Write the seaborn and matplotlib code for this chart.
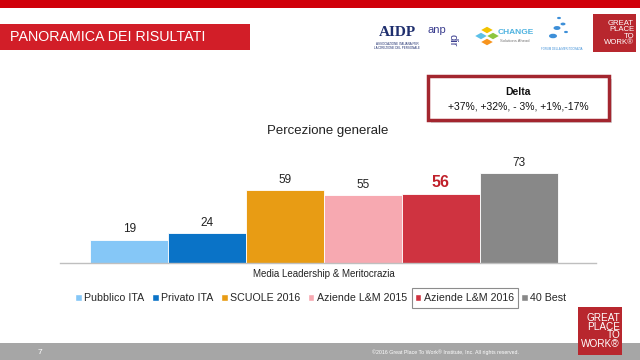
import matplotlib
matplotlib.use("Agg")
import matplotlib.pyplot as plt
import matplotlib.patches as mpatches
import pandas as pd
import seaborn as sns

# data
category = ["Media Leadership & Meritocrazia"]
series = ["Pubblico ITA", "Privato ITA", "SCUOLE 2016", "Aziende L&M 2015", "Aziende L&M 2016", "40 Best"]
values = [19, 24, 59, 55, 56, 73]
colors = ["#85C7F7", "#0A73C7", "#E89C14", "#F7A9B1", "#CF3340", "#888888"]
highlight = "Aziende L&M 2016"
delta_text = "+37%, +32%, - 3%, +1%,-17%"

sns.set_theme(style="white")
plt.rcParams["font.family"] = ["Liberation Sans", "DejaVu Sans"]

df = pd.DataFrame({"cat": category * len(series), "series": series, "value": values})

fig = plt.figure(figsize=(6.4, 3.6), dpi=100)
fig.patch.set_facecolor("white")

ax = fig.add_axes([60 / 640, 97 / 360, 536 / 640, 118 / 360])
sns.barplot(data=df, x="cat", y="value", hue="series", hue_order=series,
            palette=colors, saturation=1, width=0.872, ax=ax, legend=False,
            edgecolor="white", linewidth=0.6)
ax.set_xlim(-0.4925, 0.5075)
ax.set_ylim(0, 95.7)
ax.set_xlabel("")
ax.set_ylabel("")
ax.set_yticks([])
for s in ["top", "left", "right"]:
    ax.spines[s].set_visible(False)
ax.spines["bottom"].set_color("#BFBFBF")
ax.spines["bottom"].set_linewidth(1)
ax.tick_params(axis="x", length=0, pad=4, labelsize=7, colors="#222222")
ax.set_facecolor("white")

for name, cont in zip(series, ax.containers):
    labels = [str(int(v)) for v in cont.datavalues]
    if name == highlight:
        ax.bar_label(cont, labels=labels, padding=3,
                     fontsize=11.5, fontweight="bold", color="#C0202A")
    else:
        ax.bar_label(cont, labels=labels, padding=3,
                     fontsize=8.5, color="#222222")

ax.set_title("Percezione generale", fontsize=9.5, color="#222222", pad=8)

# legend
handles = [mpatches.Patch(facecolor=c, edgecolor="white", label=s) for s, c in zip(series, colors)]
leg = fig.legend(handles=handles, loc="center", bbox_to_anchor=(321 / 640, 1 - 298 / 360),
                 ncol=6, frameon=False, fontsize=7.7, handlelength=0.6, handleheight=0.6,
                 handletextpad=0.25, columnspacing=0.7, borderaxespad=0)
fig.canvas.draw()
renderer = fig.canvas.get_renderer()
for t in leg.get_texts():
    if t.get_text() == highlight:
        bb = t.get_window_extent(renderer)
        fig.patches.append(mpatches.Rectangle(((bb.x0 - 12) / 640, (bb.y0 - 5) / 360),
                                              (bb.width + 16) / 640, (bb.height + 10) / 360,
                                              transform=fig.transFigure, fill=False,
                                              edgecolor="#8C8C8C", linewidth=0.8))

# header
fig.patches.append(mpatches.Rectangle((0, 1 - 8 / 360), 1, 8 / 360, transform=fig.transFigure,
                                      facecolor="#D0000A", edgecolor="none"))
fig.patches.append(mpatches.Rectangle((0, 1 - 50 / 360), 250 / 640, 26 / 360, transform=fig.transFigure,
                                      facecolor="#D21E28", edgecolor="none"))
fig.text(10 / 640, 1 - 37 / 360, "PANORAMICA DEI RISULTATI", color="white", fontsize=10.3,
         va="center", ha="left")

# logos (approximate, as text)
fig.text(397 / 640, 1 - 32 / 360, "AIDP", color="#1F2F6E", fontsize=11, fontweight="bold",
         family=["Liberation Serif", "DejaVu Serif"], ha="center", va="center")
fig.text(397 / 640, 1 - 46 / 360, "ASSOCIAZIONE ITALIANA PER\nLA DIREZIONE DEL PERSONALE",
         color="#1F2F6E", fontsize=2.2, ha="center", va="center")
fig.text(437 / 640, 1 - 30 / 360, "anp", color="#3A3D8F", fontsize=8, ha="center", va="center")
fig.text(452 / 640, 1 - 40 / 360, "dir", color="#3A3D8F", fontsize=8, rotation=270,
         ha="center", va="center")
for dx, dy, c in [(0, 6, "#F2C300"), (-6, 0, "#5CC0E8"), (6, 0, "#8DC63F"), (0, -6, "#F7941D")]:
    fig.patches.append(mpatches.RegularPolygon(((487 + dx) / 640, 1 - (36 - dy) / 360), 4,
                                               radius=0.009, orientation=0,
                                               transform=fig.transFigure,
                                               facecolor=c, edgecolor="none"))
fig.text(498 / 640, 1 - 32 / 360, "CHANGE", color="#4FB3E0", fontsize=6, fontweight="bold",
         ha="left", va="center")
fig.text(500 / 640, 1 - 41 / 360, "Solutions Ahead", color="#777777", fontsize=3,
         ha="left", va="center")
for x, y, r in [(559, 18, 2), (563, 24, 2.5), (557, 28, 3.5), (566, 32, 2), (553, 36, 4)]:
    fig.patches.append(mpatches.Circle((x / 640, 1 - y / 360), r / 640, transform=fig.transFigure,
                                       facecolor="#3D8FD8", edgecolor="none"))
fig.text(562 / 640, 1 - 49 / 360, "FORUM DELLA MERITOCRAZIA", color="#3D8FD8", fontsize=2,
         ha="center", va="center")


def gptw(x0, y0, w, h, fs):
    fig.patches.append(mpatches.Rectangle((x0 / 640, 1 - (y0 + h) / 360), w / 640, h / 360,
                                          transform=fig.transFigure, facecolor="#B8272E",
                                          edgecolor="none"))
    fig.text((x0 + w - 2) / 640, 1 - (y0 + h / 2) / 360, "GREAT\nPLACE\nTO\nWORK\u00ae",
             color="white", fontsize=fs, ha="right", va="center", linespacing=0.85)


gptw(593, 14, 43, 38, 5.6)

# delta box
fig.patches.append(mpatches.Rectangle((431 / 640, 1 - 123 / 360), 181 / 640, 44 / 360,
                                      transform=fig.transFigure, facecolor="#D9D9D9",
                                      edgecolor="none"))
fig.patches.append(mpatches.Rectangle((428 / 640, 1 - 120 / 360), 181 / 640, 44 / 360,
                                      transform=fig.transFigure, facecolor="white",
                                      edgecolor="#A3262F", linewidth=2.5))
fig.text(518 / 640, 1 - 92 / 360, "Delta", fontsize=7.5, fontweight="bold", ha="center",
         va="center", color="#111111")
fig.text(518 / 640, 1 - 106 / 360, delta_text, fontsize=7.5, ha="center", va="center",
         color="#111111")

# footer
fig.patches.append(mpatches.Rectangle((0, 0), 1, 17 / 360, transform=fig.transFigure,
                                      facecolor="#A6A6A6", edgecolor="none"))
fig.text(40 / 640, 8 / 360, "7", color="white", fontsize=6, ha="center", va="center")
fig.text(519 / 640, 8 / 360, "\u00a92016 Great Place To Work\u00ae Institute, Inc. All rights reserved.",
         color="white", fontsize=3.8, ha="right", va="center")
gptw(578, 307, 44, 48, 7.2)

fig.savefig("out.png", dpi=100, facecolor="white")
